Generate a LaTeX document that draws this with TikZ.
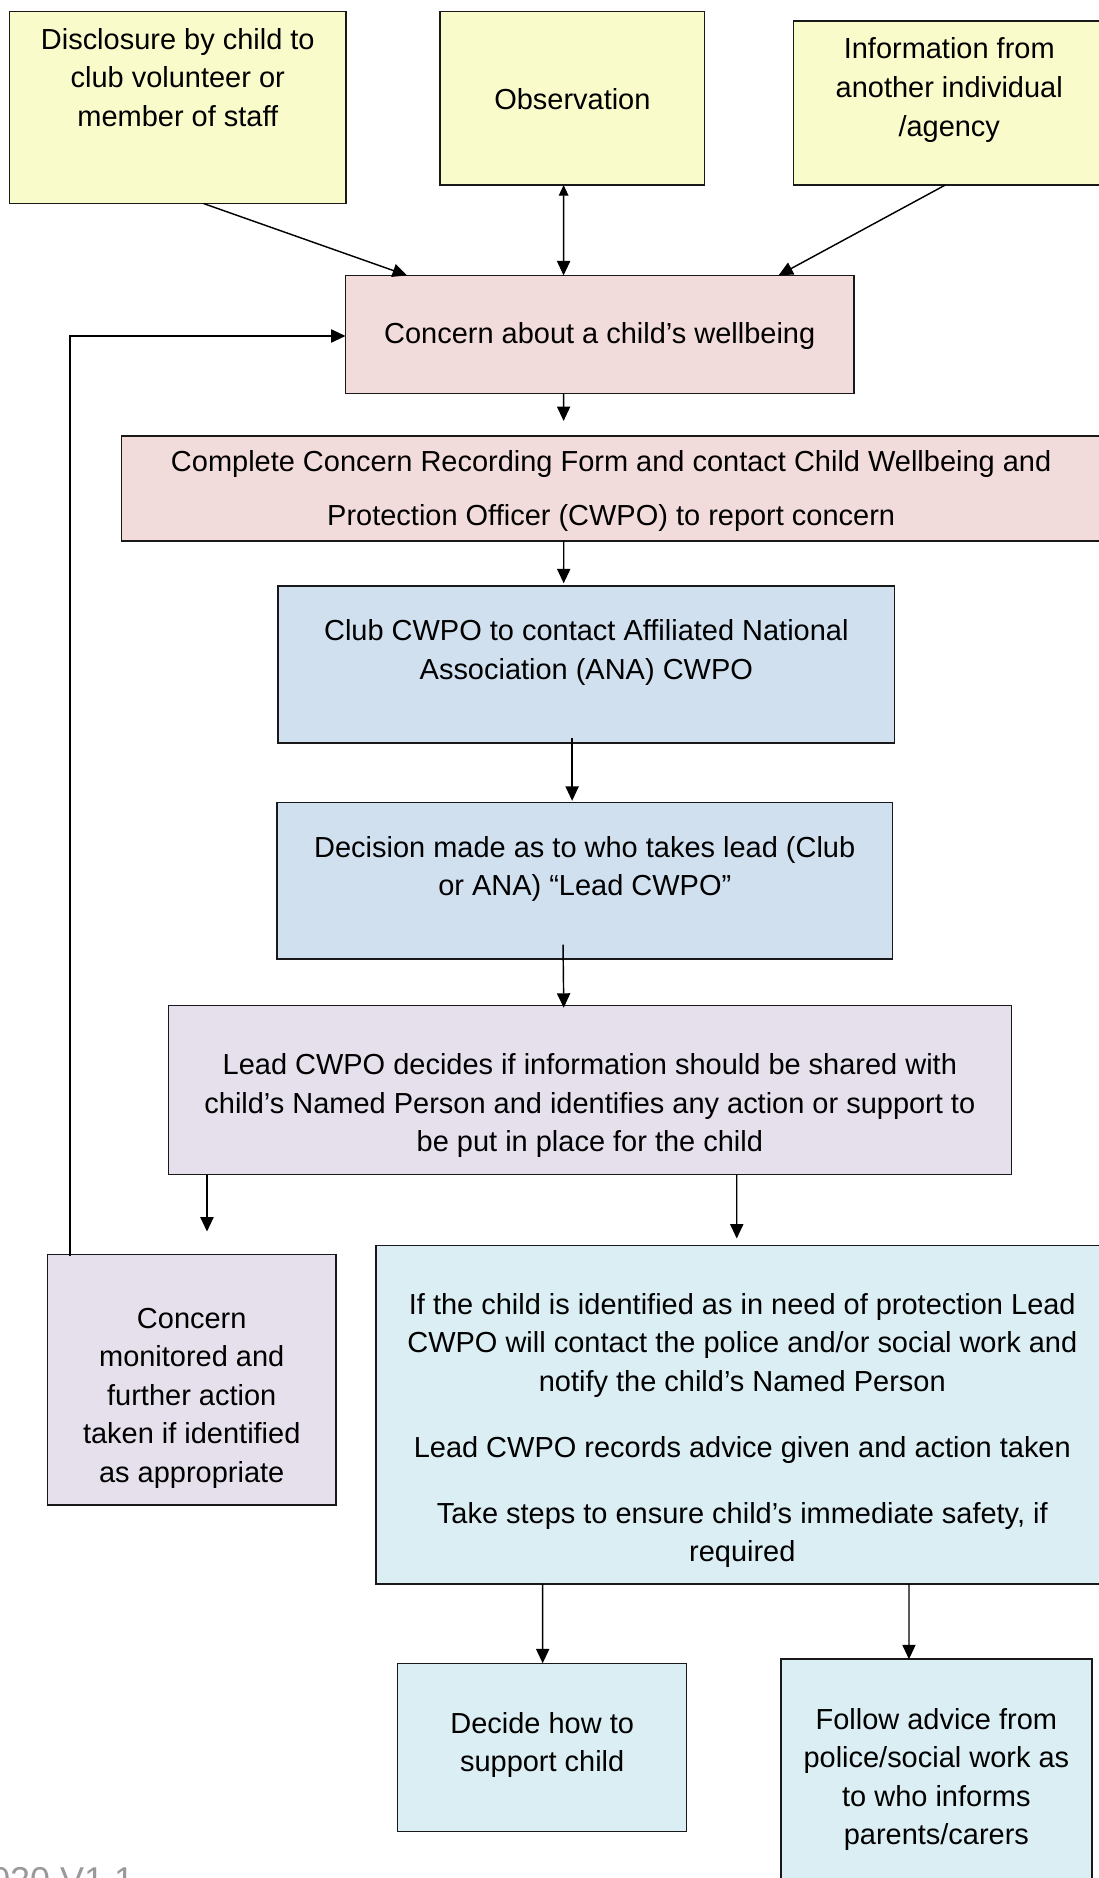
\documentclass[tikz,border=0pt]{standalone}
\usepackage{fontspec}
\setmainfont{Liberation Sans}
\usepackage{xcolor}
\usepackage{tikz}
\usetikzlibrary{arrows.meta, positioning}

\definecolor{boxyellow}{HTML}{FAFBCB}
\definecolor{boxpink}{HTML}{F2DCDB}
\definecolor{boxblue}{HTML}{D0E0EF}
\definecolor{boxlilac}{HTML}{E5E0EC}
\definecolor{boxcyan}{HTML}{DAEEF3}

\tikzset{
    flowbox/.style={draw=black!90, line width=1.2pt, inner sep=0pt, outer sep=0pt},
    yellowbox/.style={flowbox, fill=boxyellow},
    pinkbox/.style={flowbox, fill=boxpink},
    bluebox/.style={flowbox, fill=boxblue},
    lilacbox/.style={flowbox, fill=boxlilac},
    cyanbox/.style={flowbox, fill=boxcyan},
    flowtext/.style={align=center, inner sep=0pt, font=\fontsize{24.2}{32.2}\selectfont},
    flowarrow/.style={-{Triangle[length=12pt, width=11pt]}, line width=1.2pt},
}

\begin{document}
\begin{tikzpicture}[x=1pt, y=-1pt]
        \path[use as bounding box, fill=white] (0,0) rectangle (917.6,1568.7);

        \node[yellowbox, minimum width=281pt,   minimum height=160.6pt] (disclosure)  at (148.5,89.7)    {};
        \node[yellowbox, minimum width=221pt,   minimum height=145.1pt] (observation) at (478.1,81.95)   {};
        \node[yellowbox, minimum width=260.2pt, minimum height=136.9pt] (information) at (792.9,86.05)   {};
        \node[pinkbox,   minimum width=424.7pt, minimum height=98.7pt]  (concern)     at (500.95,279.35) {};
        \node[pinkbox,   minimum width=817.6pt, minimum height=87.8pt]  (complete)    at (510.5,408.1)   {};
        \node[bluebox,   minimum width=514.9pt, minimum height=130.9pt] (contact)     at (489.75,555.05) {};
        \node[bluebox,   minimum width=514.5pt, minimum height=130.6pt] (decision)    at (488.45,735.7)  {};
        \node[lilacbox,  minimum width=704.2pt, minimum height=141.5pt] (leadcwpo)    at (492.7,910.45)  {};
        \node[lilacbox,  minimum width=241.1pt, minimum height=209.5pt] (monitored)   at (160.15,1152.45) {};
        \node[cyanbox,   minimum width=611.9pt, minimum height=282.6pt] (protection)  at (620.05,1181.7) {};
        \node[cyanbox,   minimum width=241.4pt, minimum height=140.7pt] (support)     at (452.9,1459.65) {};
        \node[cyanbox,   minimum width=259.7pt, minimum height=214.1pt] (advice)      at (782.15,1492.95) {};

        \node[flowtext, below=13.9pt of disclosure.north]  (disclosure text)  {Disclosure by child to\\club volunteer or\\member of staff};
        \node[flowtext, below=64.6pt of observation.north] (observation text) {Observation};
        \node[flowtext, below=13.9pt of information.north] (information text) {Information from\\another individual\\/agency};
        \node[flowtext, below=38.8pt of concern.north]     (concern text)     {Concern about a child’s wellbeing};
        \node[flowtext, below=11.6pt of complete.north, font=\fontsize{24.2}{45.4}\selectfont] (complete text)
            {Complete Concern Recording Form and contact Child Wellbeing and\\Protection Officer (CWPO) to report concern};
        \node[flowtext, below=27.7pt of contact.north]     (contact text)     {Club CWPO to contact Affiliated National\\Association (ANA) CWPO};
        \node[flowtext, below=28pt of decision.north]      (decision text)    {Decision made as to who takes lead (Club\\or ANA) “Lead CWPO”};
        \node[flowtext, below=40.3pt of leadcwpo.north]    (leadcwpo text)
            {Lead CWPO decides if information should be shared with\\child’s Named Person and identifies any action or support to\\be put in place for the child};
        \node[flowtext, below=44.7pt of monitored.north]   (monitored text)
            {Concern\\monitored and\\further action\\taken if identified\\as appropriate};
        \node[flowtext, below=39.7pt of protection.north]  (protection text)
            {If the child is identified as in need of protection Lead\\CWPO will contact the police and/or social work and\\notify the child’s Named Person\\[22.8pt]Lead CWPO records advice given and action taken\\[22.8pt]Take steps to ensure child’s immediate safety, if\\required};
        \node[flowtext, below=40.6pt of support.north]     (support text)     {Decide how to\\support child};
        \node[flowtext, below=40.7pt of advice.north]      (advice text)      {Follow advice from\\police/social work as\\to who informs\\parents/carers};

        \node[anchor=north west, inner sep=0pt, text=black!40, font=\fontsize{30}{30}\selectfont] (version) at (-25,1559.5) {2020 V1.1};

        \draw[flowarrow] ([xshift=21.5pt]disclosure.south) -- ([xshift=-161pt]concern.north);
        \draw[{Triangle[length=9pt, width=8pt]}-{Triangle[length=12pt, width=11pt]}, line width=1.2pt]
            ([xshift=-7.3pt]observation.south) -- ([xshift=-30.2pt]concern.north);
        \draw[flowarrow] ([xshift=-3.2pt]information.south) -- ([xshift=149.4pt]concern.north);
        \draw[flowarrow] ([xshift=-30.2pt]concern.south) -- ([xshift=-39.7pt, yshift=12.6pt]complete.north);
        \draw[flowarrow] ([xshift=-39.6pt]complete.south) -- ([xshift=-18.9pt, yshift=2.4pt]contact.north);
        \draw[flowarrow] ([xshift=-11.85pt, yshift=4.3pt]contact.south) -- ([xshift=-10.55pt, yshift=1.5pt]decision.north);
        \draw[flowarrow] ([xshift=-18.15pt, yshift=12pt]decision.south) -- ([xshift=-21.8pt, yshift=-2pt]leadcwpo.north);
        \draw[flowarrow] ([xshift=-319.8pt]leadcwpo.south) -- ([xshift=12.75pt, yshift=19pt]monitored.north);
        \draw[flowarrow] ([xshift=122.7pt]leadcwpo.south) -- ([xshift=-4.65pt, yshift=5.9pt]protection.north);
        \draw[flowarrow] ([xshift=-166.75pt]protection.south) -- ([xshift=0.4pt]support.north);
        \draw[flowarrow] ([xshift=139.25pt]protection.south) -- ([xshift=-22.9pt]advice.north);
        \draw[flowarrow] ([xshift=-101.55pt, yshift=-1.5pt]monitored.north) |- ([yshift=-1.3pt]concern.west);
\end{tikzpicture}
\end{document}
